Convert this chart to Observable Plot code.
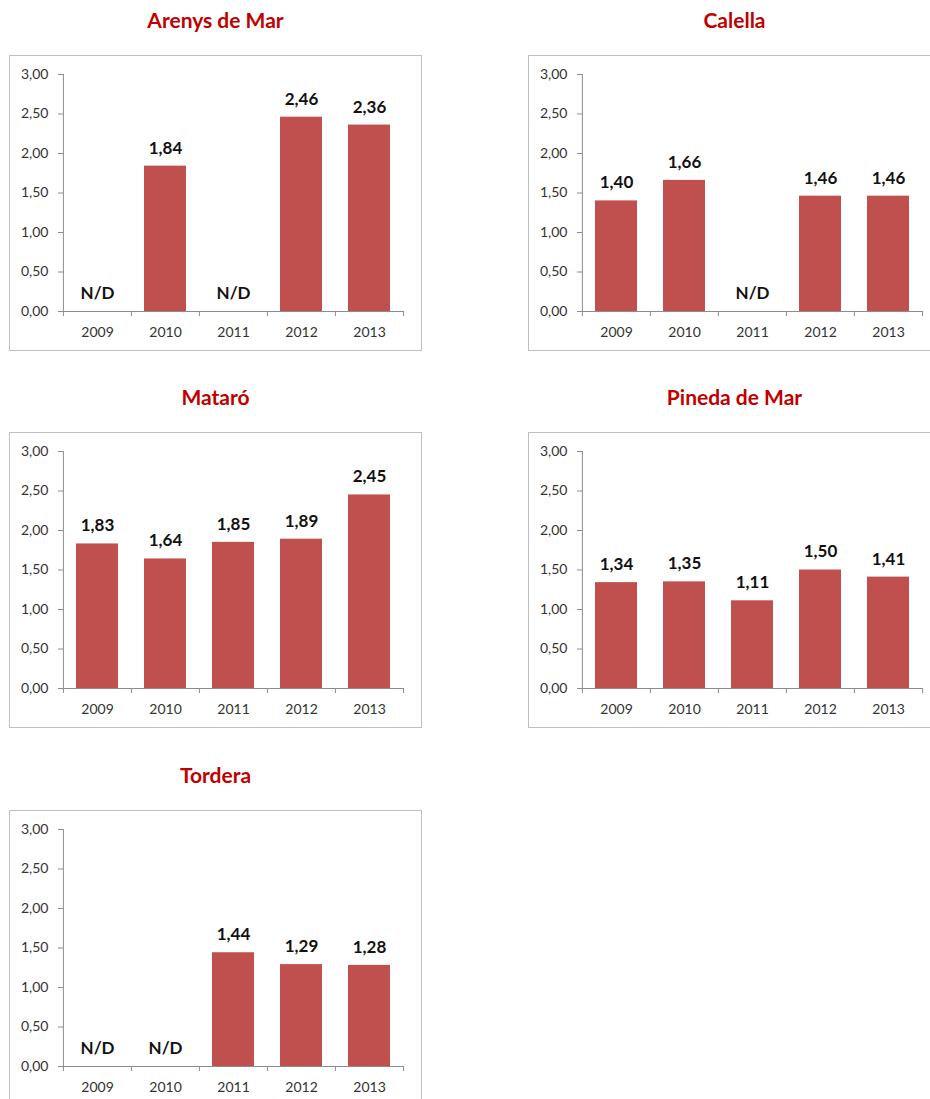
<!DOCTYPE html>
<html>
<head>
<meta charset="utf-8">
<script src="https://cdn.jsdelivr.net/npm/d3@7"></script>
<script src="https://cdn.jsdelivr.net/npm/@observablehq/plot@0.6"></script>
<style>
  html, body { margin: 0; padding: 0; background: #fff; }
  #page { position: relative; width: 930px; height: 1099px; overflow: hidden; font-family: Lato, "Open Sans", sans-serif; }
  .title { position: absolute; width: 413px; text-align: center; color: #C00000; font-weight: bold; font-size: 21px; line-height: 26px; }
  .box { position: absolute; width: 411px; height: 294px; border: 1px solid #BFBFBF; background: #fff; }
  .box svg { position: absolute; left: 0; top: 0; }
</style>
</head>
<body>
<div id="page"></div>
<script>
// ---- data ----
const years = ["2009", "2010", "2011", "2012", "2013"];
const towns = ["Arenys de Mar", "Calella", "Mataró", "Pineda de Mar", "Tordera"];
const arenysValues  = [null, 1.84, null, 2.46, 2.36];
const calellaValues = [1.40, 1.66, null, 1.46, 1.46];
const mataroValues  = [1.83, 1.64, 1.85, 1.89, 2.45];
const pinedaValues  = [1.34, 1.35, 1.11, 1.50, 1.41];
const torderaValues = [null, null, 1.44, 1.29, 1.28];
const yTicks = [0, 0.5, 1, 1.5, 2, 2.5, 3];
const missingLabel = "N/D";

const seriesList = [arenysValues, calellaValues, mataroValues, pinedaValues, torderaValues];

// ---- layout (panel boxes) ----
const colLeft = [9, 528];
const rowTop = [55, 432, 810];
const W = 411, H = 294;
const mL = 53, mR = 17, mT = 18, mB = 39;
const barColor = "#C0504D";
const axisColor = "#8C8C8C";

const fmt = v => v.toFixed(2).replace(".", ",");
const page = document.getElementById("page");

towns.forEach((town, i) => {
  const col = i % 2, row = Math.floor(i / 2);
  const left = colLeft[col], top = rowTop[row];

  const title = document.createElement("div");
  title.className = "title";
  title.style.left = left + "px";
  title.style.top = (top - 48) + "px";
  title.textContent = town;
  page.appendChild(title);

  const box = document.createElement("div");
  box.className = "box";
  box.style.left = left + "px";
  box.style.top = top + "px";
  page.appendChild(box);

  const data = years.map((y, k) => ({year: y, value: seriesList[i][k]}));
  const step = (W - mL - mR) / years.length;

  const chart = Plot.plot({
    width: W, height: H,
    marginLeft: mL, marginRight: mR, marginTop: mT, marginBottom: mB,
    style: {fontFamily: "Lato, 'Open Sans', sans-serif", background: "transparent", overflow: "visible"},
    x: {type: "band", domain: years, paddingInner: 0.38, paddingOuter: 0.19, label: null},
    y: {domain: [0, 3], label: null},
    marks: [
      Plot.barY(data.filter(d => d.value != null), {x: "year", y: "value", fill: barColor}),
      // axes lines
      Plot.ruleY([0], {stroke: axisColor, strokeWidth: 1}),
      Plot.ruleX([years[0]], {x: d => d, dx: -step / 2, y1: 0, y2: 3, stroke: axisColor}),
      // category boundary ticks
      Plot.ruleX(years, {x: d => d, dx: -step / 2, y1: 0, y2: 0, insetBottom: -5, stroke: axisColor}),
      Plot.ruleX([years[years.length - 1]], {x: d => d, dx: step / 2, y1: 0, y2: 0, insetBottom: -5, stroke: axisColor}),
      Plot.axisY({ticks: yTicks, tickFormat: fmt, tickSize: 5, tickPadding: 10, stroke: axisColor, fill: "#333", fontSize: 14}),
      Plot.axisX({tickSize: 0, tickPadding: 16, fill: "#333", fontSize: 14, label: null}),
      // value labels
      Plot.text(data, {
        x: "year",
        y: d => d.value == null ? 0 : d.value,
        text: d => d.value == null ? missingLabel : fmt(d.value),
        dy: -18, lineAnchor: "middle",
        fontWeight: "bold", fontSize: 17, fill: "#111"
      })
    ]
  });
  box.appendChild(chart);
});
</script>
</body>
</html>
